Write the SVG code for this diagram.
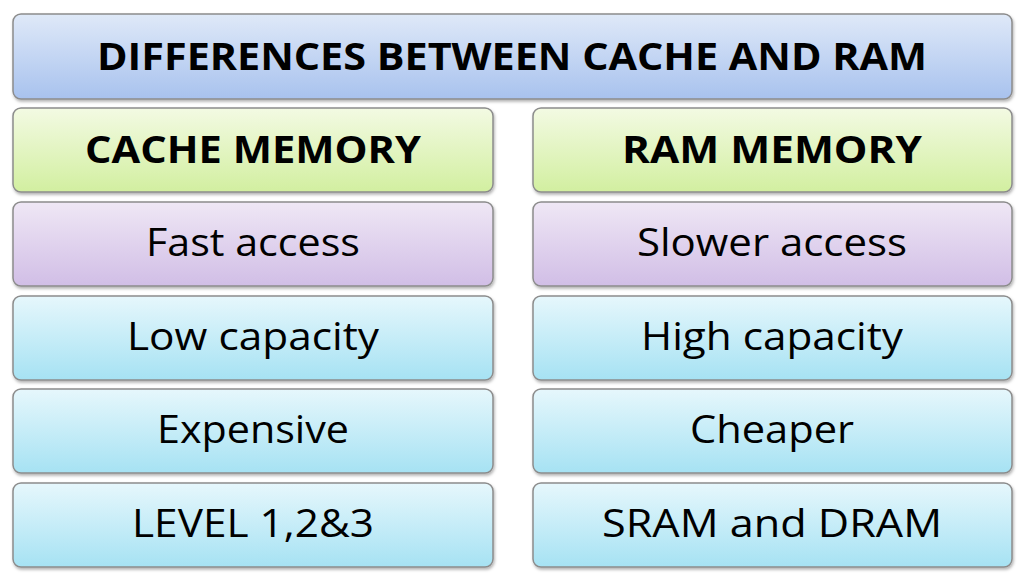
<svg xmlns="http://www.w3.org/2000/svg" width="1024" height="580" viewBox="0 0 1024 580">
<defs>
<linearGradient id="gb" x1="0" y1="0" x2="0" y2="1"><stop offset="0" stop-color="#dfe9f8"/><stop offset="1" stop-color="#a8c2ee"/></linearGradient>
<linearGradient id="gg" x1="0" y1="0" x2="0" y2="1"><stop offset="0" stop-color="#f3fae3"/><stop offset="1" stop-color="#d2efa0"/></linearGradient>
<linearGradient id="gp" x1="0" y1="0" x2="0" y2="1"><stop offset="0" stop-color="#efe7f5"/><stop offset="1" stop-color="#d1bee6"/></linearGradient>
<linearGradient id="gc" x1="0" y1="0" x2="0" y2="1"><stop offset="0" stop-color="#e6f7fc"/><stop offset="1" stop-color="#a6e2f3"/></linearGradient>
<filter id="sh" x="-5%" y="-10%" width="110%" height="130%"><feDropShadow dx="1" dy="2" stdDeviation="1.5" flood-color="#000" flood-opacity="0.3"/></filter>
</defs>
<style>
rect{stroke:#8c8c8c;stroke-width:1.5;filter:url(#sh)}
text{font-family:"Open Sans","Liberation Sans",sans-serif;text-anchor:middle;fill:#000}
.h{font-weight:bold;font-size:38px}
.t{font-size:38px}
</style>
<rect width="1024" height="580" fill="#fff" style="stroke:none;filter:none"/>
<g id="title"><rect x="13" y="14" width="999" height="85" rx="8" fill="url(#gb)"/><text class="h" x="512" y="70" textLength="830" lengthAdjust="spacingAndGlyphs">DIFFERENCES BETWEEN CACHE AND RAM</text></g>
<g id="cache"><rect x="13" y="108" width="480" height="84" rx="8" fill="url(#gg)"/><text class="h" x="253" y="163" textLength="336" lengthAdjust="spacingAndGlyphs">CACHE MEMORY</text></g>
<g id="ram"><rect x="533" y="108" width="479" height="84" rx="8" fill="url(#gg)"/><text class="h" x="772" y="163" textLength="300" lengthAdjust="spacingAndGlyphs">RAM MEMORY</text></g>
<g id="c1"><rect x="13" y="202" width="480" height="84" rx="8" fill="url(#gp)"/><text class="t" x="253" y="256" textLength="214" lengthAdjust="spacingAndGlyphs">Fast access</text></g>
<g id="r1"><rect x="533" y="202" width="479" height="84" rx="8" fill="url(#gp)"/><text class="t" x="772" y="256" textLength="270" lengthAdjust="spacingAndGlyphs">Slower access</text></g>
<g id="c2"><rect x="13" y="296" width="480" height="84" rx="8" fill="url(#gc)"/><text class="t" x="253" y="350" textLength="252" lengthAdjust="spacingAndGlyphs">Low capacity</text></g>
<g id="r2"><rect x="533" y="296" width="479" height="84" rx="8" fill="url(#gc)"/><text class="t" x="772" y="350" textLength="262" lengthAdjust="spacingAndGlyphs">High capacity</text></g>
<g id="c3"><rect x="13" y="389" width="480" height="84" rx="8" fill="url(#gc)"/><text class="t" x="253" y="443" textLength="192" lengthAdjust="spacingAndGlyphs">Expensive</text></g>
<g id="r3"><rect x="533" y="389" width="479" height="84" rx="8" fill="url(#gc)"/><text class="t" x="772" y="443" textLength="164" lengthAdjust="spacingAndGlyphs">Cheaper</text></g>
<g id="c4"><rect x="13" y="483" width="480" height="84" rx="8" fill="url(#gc)"/><text class="t" x="253" y="537" textLength="242" lengthAdjust="spacingAndGlyphs">LEVEL 1,2&amp;3</text></g>
<g id="r4"><rect x="533" y="483" width="479" height="84" rx="8" fill="url(#gc)"/><text class="t" x="772" y="537" textLength="340" lengthAdjust="spacingAndGlyphs">SRAM and DRAM</text></g>
<g id="connectors"/>
</svg>
